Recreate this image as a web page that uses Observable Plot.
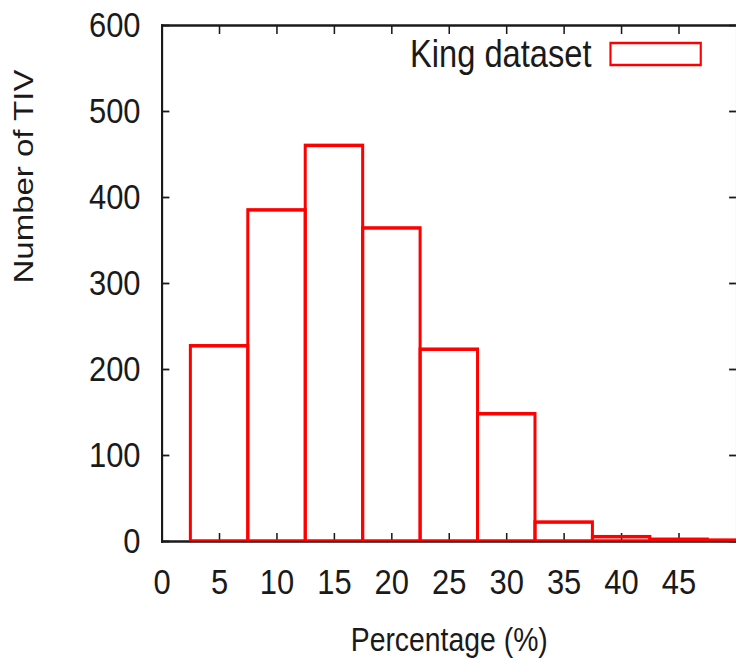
<!DOCTYPE html>
<html><head><meta charset="utf-8">
<script src="https://cdn.jsdelivr.net/npm/d3@7"></script>
<script src="https://cdn.jsdelivr.net/npm/@observablehq/plot@0.6"></script>
<style>body{margin:0;background:#fff;} #chart svg{display:block}</style>
</head><body><div id="chart"></div>
<script>
// ---- data ----
const binCenters = [0, 5, 10, 15, 20, 25, 30, 35, 40, 45, 50];
const counts     = [0, 227, 385, 460, 364, 223, 148, 22, 5, 2, 1];
const binWidth = 5;
const xTicks = [0, 5, 10, 15, 20, 25, 30, 35, 40, 45];
const yTicks = [0, 100, 200, 300, 400, 500, 600];
const seriesName = "King dataset";
const xLabel = "Percentage (%)";
const yLabel = "Number of TIV";

const bins = binCenters.map((c, i) => ({x1: c - binWidth / 2, x2: c + binWidth / 2, count: counts[i]}));

const PW = 856, PH = 663, SCREEN_W = 736;
const font = "'Liberation Sans', Arial, Helvetica, sans-serif";
const ink = "#1a1a1a";
const red = "#ff0000";

const plot = Plot.plot({
  width: PW, height: PH,
  marginLeft: 188, marginRight: 0, marginTop: 25, marginBottom: 122,
  style: {fontFamily: font, fontSize: "36px", color: ink, background: "#fff"},
  x: {domain: [0, 50]},
  y: {domain: [0, 600]},
  marks: [
    Plot.axisY(yTicks, {anchor: "left", tickSize: 0, tickPadding: 25, fontSize: 36, label: null}),
    Plot.axisX(xTicks, {anchor: "bottom", tickSize: 0, tickPadding: 27, fontSize: 36, label: null}),
    Plot.axisY(yTicks, {anchor: "left", tickSize: 9, dx: 9, fill: "none", label: null, strokeWidth: 1.8}),
    Plot.axisY(yTicks, {anchor: "right", tickSize: 9, dx: -9, fill: "none", label: null, strokeWidth: 1.8}),
    Plot.axisX(xTicks, {anchor: "bottom", tickSize: 8, dy: -8, fill: "none", label: null, strokeWidth: 1.8}),
    Plot.axisX(xTicks, {anchor: "top", tickSize: 8, dy: 8, fill: "none", label: null, strokeWidth: 1.8}),
    Plot.frame({anchor: "left", stroke: ink, strokeWidth: 2.5}),
    Plot.frame({anchor: "top", stroke: ink, strokeWidth: 2.5}),
    Plot.frame({anchor: "bottom", stroke: ink, strokeWidth: 2.5}),
    Plot.frame({anchor: "right", stroke: "#bbb", strokeWidth: 1}),
    Plot.rectY(bins, {x1: "x1", x2: "x2", y: "count", fill: "none", stroke: red, strokeWidth: 3.5, clip: true}),
    Plot.text([xLabel], {frameAnchor: "bottom", dy: 109, fontSize: 33, fill: ink}),
    Plot.text([yLabel], {frameAnchor: "left", dx: -161, rotate: -90, fontSize: 33, fill: ink})
  ]
});

// legend inside the frame (top-right)
const svg = d3.select(plot);
const lg = svg.append("g");
lg.append("text").attr("x", 688).attr("y", 67).attr("text-anchor", "end")
  .attr("font-size", 38).attr("font-family", font).attr("fill", ink).text(seriesName);
lg.append("rect").attr("x", 710).attr("y", 43).attr("width", 105).attr("height", 22)
  .attr("fill", "none").attr("stroke", red).attr("stroke-width", 2.5);

// the reference is horizontally condensed: squeeze the drawing to screen width
plot.setAttribute("viewBox", `0 0 ${PW} ${PH}`);
plot.setAttribute("width", SCREEN_W);
plot.setAttribute("height", PH);
plot.setAttribute("preserveAspectRatio", "none");
plot.style.width = SCREEN_W + "px";
plot.style.height = PH + "px";
plot.style.maxWidth = "none";

document.getElementById("chart").appendChild(plot);
</script>
</body></html>
